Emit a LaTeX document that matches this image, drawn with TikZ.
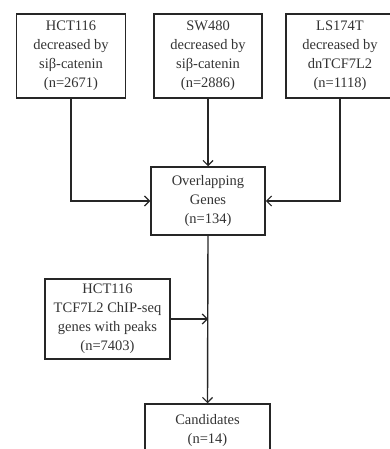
\documentclass[tikz,border=0pt]{standalone}
\usepackage{fontspec}
\setmainfont{Liberation Serif}
\usetikzlibrary{arrows.meta}
\begin{document}
\begin{tikzpicture}[x=1pt,y=-1pt,
  box/.style={draw=black!85,line width=1.5pt,fill=white,text=black!80,align=center,
    font=\fontsize{14.5}{19}\selectfont,inner sep=0pt,anchor=center},
  conn/.style={draw=black!85,line width=1.4pt,-{Straight Barb[length=5pt,width=10pt,line width=1.2pt]}}]
\useasboundingbox (0,0) rectangle (389,449);
\node[box,minimum width=109pt,minimum height=84pt] (b1) at (71,56)
  {HCT116\\decreased by\\siβ-catenin\\(n=2671)};
\node[box,minimum width=108pt,minimum height=84pt] (b2) at (208,56)
  {SW480\\decreased by\\siβ-catenin\\(n=2886)};
\node[box,minimum width=108pt,minimum height=84pt] (b3) at (340,56)
  {LS174T\\decreased by\\dnTCF7L2\\(n=1118)};
\node[box,minimum width=114pt,minimum height=68pt] (ov) at (208,201)
  {Overlapping\\Genes\\(n=134)};
\node[box,minimum width=125pt,minimum height=80pt] (chip) at (107.5,319)
  {HCT116\\TCF7L2 ChIP-seq\\genes with peaks\\(n=7403)};
\node[box,minimum width=125pt,minimum height=54pt] (cand) at (207.5,431)
  {Candidates\\(n=14)};
\draw[conn] (b1.south) |- (ov.west);
\draw[conn] (b2.south) -- (ov.north);
\draw[conn] (b3.south) |- (ov.east);
\coordinate (j) at (chip.east -| ov.south);
\draw[conn] (chip.east) -- (j);
\draw[conn] (ov.south) -- (cand.north);
\end{tikzpicture}
\end{document}
